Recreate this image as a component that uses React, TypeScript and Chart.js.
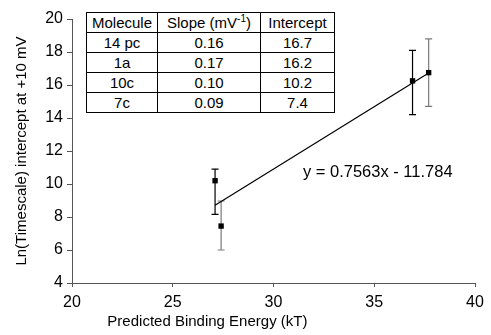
import React, { useEffect, useRef } from "react";
import { Chart, registerables } from "chart.js";

Chart.register(...registerables);

// ---- data ----
const molecules = ["14 pc", "1a", "10c", "7c"];
const bindingEnergy = [37.7, 36.9, 27.1, 27.4];
const lnIntercept = [16.75, 16.25, 10.2, 7.45];
const errUp = [2.05, 1.85, 0.7, 1.52];
const errDown = [2.04, 2.04, 2.04, 1.45];
const errColors = ["#7a7a7a", "#000000", "#000000", "#7a7a7a"];
const tableSlopes = ["0.16", "0.17", "0.10", "0.09"];
const tableIntercepts = ["16.7", "16.2", "10.2", "7.4"];
const fitSlope = 0.7563;
const fitOffset = -11.784;
const fitXRange = [27.1, 37.7];
const equationLabel = "y = 0.7563x - 11.784";
const equationPos = [31.46, 10.68];
const xTitle = "Predicted Binding Energy (kT)";
const yTitle = "Ln(Timescale) intercept at +10 mV";

const FONT = "'Liberation Sans', Arial, Helvetica, sans-serif";
const FS = 15;
const TICK_FS = 16;
const EQ_FS = 16.5;

const errorBarPlugin = {
  id: "errorBars",
  beforeDatasetsDraw(chart: any) {
    const { ctx, scales } = chart;
    const xs = scales.x;
    const ys = scales.y;
    ctx.save();
    ctx.lineWidth = 1.2;
    bindingEnergy.forEach((xv, i) => {
      const px = xs.getPixelForValue(xv);
      const top = ys.getPixelForValue(lnIntercept[i] + errUp[i]);
      const bot = ys.getPixelForValue(lnIntercept[i] - errDown[i]);
      ctx.strokeStyle = errColors[i];
      ctx.beginPath();
      ctx.moveTo(px, top);
      ctx.lineTo(px, bot);
      ctx.moveTo(px - 3.5, top);
      ctx.lineTo(px + 3.5, top);
      ctx.moveTo(px - 3.5, bot);
      ctx.lineTo(px + 3.5, bot);
      ctx.stroke();
    });
    ctx.restore();
  },
  afterDatasetsDraw(chart: any) {
    const { ctx, scales, chartArea } = chart;
    ctx.save();
    ctx.fillStyle = "#000";
    ctx.font = `${EQ_FS}px ${FONT}`;
    ctx.textAlign = "left";
    ctx.textBaseline = "middle";
    ctx.fillText(
      equationLabel,
      scales.x.getPixelForValue(equationPos[0]),
      scales.y.getPixelForValue(equationPos[1])
    );
    // x-axis title (offset to the left, as in the original figure)
    ctx.font = `${FS}px ${FONT}`;
    ctx.textAlign = "center";
    ctx.fillText(
      xTitle,
      chartArea.left + 0.336 * (chartArea.right - chartArea.left),
      chartArea.bottom + 39
    );
    ctx.restore();
  },
};

export default function App() {
  const canvasRef = useRef<HTMLCanvasElement | null>(null);

  useEffect(() => {
    document.body.style.margin = "0";
    const canvas = canvasRef.current;
    if (!canvas) return;
    const chart = new Chart(canvas, {
      type: "scatter",
      data: {
        datasets: [
          {
            type: "line",
            data: fitXRange.map((x) => ({ x, y: fitSlope * x + fitOffset })),
            borderColor: "#000",
            borderWidth: 1.2,
            pointRadius: 0,
            fill: false,
          } as any,
          {
            data: bindingEnergy.map((x, i) => ({ x, y: lnIntercept[i] })),
            pointStyle: "rect",
            pointRadius: 3.8,
            backgroundColor: "#000",
            borderColor: "#000",
            borderWidth: 0,
          },
        ],
      },
      options: {
        animation: false,
        responsive: false,
        devicePixelRatio: 1,
        layout: { padding: { top: 19, right: 16, left: 0, bottom: 0 } },
        plugins: { legend: { display: false }, tooltip: { enabled: false } },
        scales: {
          x: {
            type: "linear",
            min: 20,
            max: 40,
            ticks: {
              stepSize: 5,
              color: "#000",
              font: { family: FONT, size: TICK_FS },
              padding: 6,
            },
            grid: {
              display: true,
              drawOnChartArea: false,
              tickLength: 4,
              color: "#555",
            },
            border: { color: "#555", width: 1 },
            title: { display: false },
            afterFit: (s: any) => {
              s.height = 52;
            },
          },
          y: {
            type: "linear",
            min: 4,
            max: 20,
            ticks: {
              stepSize: 2,
              color: "#000",
              font: { family: FONT, size: TICK_FS },
              padding: 4,
            },
            grid: {
              display: true,
              drawOnChartArea: false,
              tickLength: 5,
              color: "#555",
            },
            border: { color: "#555", width: 1 },
            title: {
              display: true,
              text: yTitle,
              color: "#000",
              font: { family: FONT, size: FS },
              padding: { top: 13, bottom: 0 },
            },
            afterFit: (s: any) => {
              s.width = 72;
            },
          },
        },
      },
      plugins: [errorBarPlugin],
    } as any);
    return () => chart.destroy();
  }, []);

  const cell: React.CSSProperties = {
    border: "1px solid #000",
    padding: 0,
    textAlign: "center",
    fontSize: FS,
    fontFamily: FONT,
    color: "#000",
    lineHeight: "17px",
    height: 19,
    whiteSpace: "nowrap",
  };

  return (
    <div style={{ position: "relative", width: 491, height: 335 }}>
      <canvas ref={canvasRef} width={491} height={335} style={{ display: "block" }} />
      <table
        style={{
          position: "absolute",
          left: 86,
          top: 12,
          borderCollapse: "collapse",
          background: "#fff",
          tableLayout: "fixed",
          width: 248,
        }}
      >
        <colgroup>
          <col style={{ width: 71 }} />
          <col style={{ width: 103 }} />
          <col style={{ width: 74 }} />
        </colgroup>
        <tbody>
          <tr>
            <td style={cell}>Molecule</td>
            <td style={cell}>
              Slope (mV<sup style={{ fontSize: 10, lineHeight: 0 }}>-1</sup>)
            </td>
            <td style={cell}>Intercept</td>
          </tr>
          {molecules.map((m, i) => (
            <tr key={m}>
              <td style={cell}>{m}</td>
              <td style={cell}>{tableSlopes[i]}</td>
              <td style={cell}>{tableIntercepts[i]}</td>
            </tr>
          ))}
        </tbody>
      </table>
    </div>
  );
}
